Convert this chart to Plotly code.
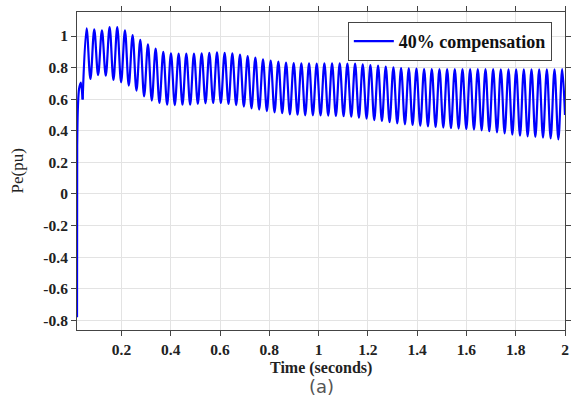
import plotly.graph_objects as go

# ---- data ----
# initial transient
t_start = [0.0196, 0.0203, 0.0235, 0.0280, 0.0355, 0.0425]
pe_start = [-0.78, 0.30, 0.56, 0.665, 0.705, 0.598]

# oscillation peaks
t_peak = [0.0585, 0.0896, 0.1208, 0.1519, 0.1830, 0.2142, 0.2453, 0.2764, 0.3075, 0.3387,
          0.3698, 0.4009, 0.4321, 0.4632, 0.4943, 0.5255, 0.5566, 0.5877, 0.6188, 0.6500,
          0.6811, 0.7122, 0.7434, 0.7745, 0.8056, 0.8368, 0.8679, 0.8990, 0.9301, 0.9613,
          0.9924, 1.0235, 1.0547, 1.0858, 1.1169, 1.1481, 1.1792, 1.2103, 1.2414, 1.2726,
          1.3037, 1.3348, 1.3660, 1.3971, 1.4282, 1.4594, 1.4905, 1.5216, 1.5527, 1.5839,
          1.6150, 1.6461, 1.6773, 1.7084, 1.7395, 1.7707, 1.8018, 1.8329, 1.8640, 1.8952,
          1.9263, 1.9574, 1.9886]
pe_peak = [1.049, 1.042, 1.036, 1.057, 1.057, 1.036, 1.006, 0.975, 0.947, 0.920,
           0.899, 0.890, 0.888, 0.888, 0.889, 0.890, 0.894, 0.897, 0.894, 0.890,
           0.882, 0.873, 0.863, 0.852, 0.844, 0.838, 0.831, 0.829, 0.827, 0.827,
           0.826, 0.827, 0.827, 0.827, 0.825, 0.825, 0.821, 0.816, 0.812, 0.806,
           0.802, 0.797, 0.795, 0.793, 0.791, 0.791, 0.790, 0.790, 0.791, 0.791,
           0.791, 0.791, 0.790, 0.790, 0.789, 0.789, 0.789, 0.789, 0.789, 0.789,
           0.789, 0.789, 0.790]

# oscillation troughs
t_trough = [0.0741, 0.1052, 0.1363, 0.1675, 0.1986, 0.2297, 0.2609, 0.2920, 0.3231, 0.3542,
            0.3854, 0.4165, 0.4476, 0.4788, 0.5099, 0.5410, 0.5722, 0.6033, 0.6344, 0.6655,
            0.6967, 0.7278, 0.7589, 0.7901, 0.8212, 0.8523, 0.8835, 0.9146, 0.9457, 0.9768,
            1.0080, 1.0391, 1.0702, 1.1014, 1.1325, 1.1636, 1.1948, 1.2259, 1.2570, 1.2881,
            1.3193, 1.3504, 1.3815, 1.4127, 1.4438, 1.4749, 1.5061, 1.5372, 1.5683, 1.5994,
            1.6306, 1.6617, 1.6928, 1.7240, 1.7551, 1.7862, 1.8174, 1.8485, 1.8796, 1.9107,
            1.9419, 1.9730]
pe_trough = [0.728, 0.753, 0.749, 0.722, 0.707, 0.686, 0.654, 0.618, 0.591, 0.576,
             0.565, 0.563, 0.565, 0.565, 0.570, 0.574, 0.576, 0.576, 0.570, 0.563,
             0.553, 0.542, 0.534, 0.525, 0.517, 0.511, 0.504, 0.502, 0.498, 0.498,
             0.497, 0.496, 0.494, 0.492, 0.489, 0.483, 0.477, 0.468, 0.462, 0.454,
             0.447, 0.441, 0.437, 0.432, 0.428, 0.424, 0.420, 0.417, 0.414, 0.411,
             0.407, 0.403, 0.397, 0.390, 0.384, 0.376, 0.369, 0.365, 0.361, 0.357,
             0.352, 0.346]

# final sample
t_end = [2.0]
pe_end = [0.50]

x_ticks = [0.2, 0.4, 0.6, 0.8, 1.0, 1.2, 1.4, 1.6, 1.8, 2.0]
x_ticktext = ["0.2", "0.4", "0.6", "0.8", "1", "1.2", "1.4", "1.6", "1.8", "2"]
y_ticks = [-0.8, -0.6, -0.4, -0.2, 0, 0.2, 0.4, 0.6, 0.8, 1.0]
y_ticktext = ["-0.8", "-0.6", "-0.4", "-0.2", "0", "0.2", "0.4", "0.6", "0.8", "1"]

series_name = "40% compensation"

# ---- assemble oscillation: alternate peaks and troughs ----
osc_t = [t_start[-1]]
osc_pe = [pe_start[-1]]
for i in range(len(t_peak)):
    osc_t.append(t_peak[i]); osc_pe.append(pe_peak[i])
    if i < len(t_trough):
        osc_t.append(t_trough[i]); osc_pe.append(pe_trough[i])
osc_t += t_end
osc_pe += pe_end

BLUE = "#0000ff"
serif = "Times New Roman, Liberation Serif, DejaVu Serif, serif"

fig = go.Figure()
fig.add_trace(go.Scatter(x=t_start, y=pe_start, mode="lines",
                         line=dict(color=BLUE, width=2.2, shape="spline", smoothing=0.6),
                         showlegend=False, hoverinfo="skip"))
fig.add_trace(go.Scatter(x=osc_t, y=osc_pe, mode="lines", name=series_name,
                         line=dict(color=BLUE, width=2.2, shape="spline", smoothing=1.0)))

axis_common = dict(
    showline=True, linecolor="#444444", linewidth=1, mirror="allticks",
    ticks="outside", ticklen=5, tickcolor="#444444", tickwidth=1,
    showgrid=True, gridcolor="#e3e3e3", gridwidth=1, zeroline=False,
    tickfont=dict(family=serif, size=15.5, color="#222222", weight="bold"),
)

fig.update_layout(
    width=576, height=401,
    margin=dict(l=77, r=5, t=12, b=71),
    paper_bgcolor="white", plot_bgcolor="white",
    xaxis=dict(range=[0.0196, 2.0], tickvals=x_ticks, ticktext=x_ticktext, **axis_common),
    yaxis=dict(range=[-0.861, 1.152], tickvals=y_ticks, ticktext=y_ticktext, **axis_common),
    legend=dict(x=0.555, y=0.969, xanchor="left", yanchor="top",
                bgcolor="white", bordercolor="#444444", borderwidth=1,
                font=dict(family=serif, size=18, color="#111111", weight="bold"),
                itemwidth=40, tracegroupgap=0),
    showlegend=True,
    annotations=[
        dict(text="Time (seconds)", x=0.5, y=-0.118, xref="paper", yref="paper",
             xanchor="center", yanchor="middle", showarrow=False,
             font=dict(family=serif, size=16, color="#222222", weight="bold")),
        dict(text="Pe(pu)", x=-0.122, y=0.5, xref="paper", yref="paper",
             xanchor="center", yanchor="middle", showarrow=False, textangle=-90,
             font=dict(family=serif, size=17, color="#222222")),
        dict(text="(a)", x=0.5, y=-0.178, xref="paper", yref="paper",
             xanchor="center", yanchor="middle", showarrow=False,
             font=dict(family="DejaVu Sans", size=18, color="#555555")),
    ],
)

fig.write_html("out.html")
